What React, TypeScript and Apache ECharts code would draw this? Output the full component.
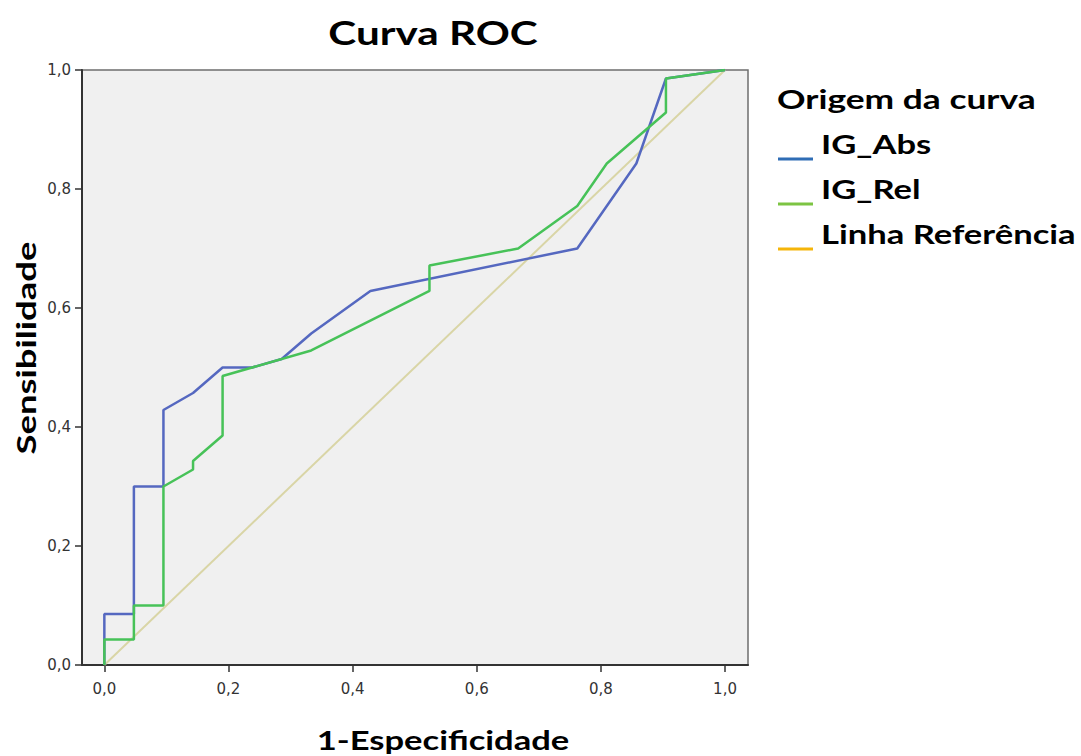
import React, { useEffect, useRef } from "react";
import * as echarts from "echarts";

const xTicks = [0, 0.2, 0.4, 0.6, 0.8, 1.0];

const absX = [0, 0, 0.0476, 0.0476, 0.0952, 0.0952, 0.1429, 0.1905, 0.2381, 0.2857, 0.3333, 0.4286, 0.7619, 0.8571, 0.9048, 1.0];
const absY = [0, 0.0857, 0.0857, 0.3, 0.3, 0.4286, 0.4571, 0.5, 0.5, 0.5143, 0.5571, 0.6286, 0.7, 0.8429, 0.9857, 1.0];

const relX = [0, 0, 0.0476, 0.0476, 0.0952, 0.0952, 0.1429, 0.1429, 0.1905, 0.1905, 0.3333, 0.5238, 0.5238, 0.6667, 0.7619, 0.8095, 0.9048, 0.9048, 1.0];
const relY = [0, 0.0429, 0.0429, 0.1, 0.1, 0.3, 0.3286, 0.3429, 0.3857, 0.4857, 0.5286, 0.6286, 0.6714, 0.7, 0.7714, 0.8429, 0.9286, 0.9857, 1.0];

const refX = [0, 1];
const refY = [0, 1];

const seriesNames = ["IG_Abs", "IG_Rel", "Linha Referência"];
const legendColors = ["#2f6db5", "#7cc443", "#f5b50a"];
const lineColors = ["#5568c0", "#47c258", "#d9d5a6"];

const fmt = (v: number) => v.toFixed(1).replace(".", ",");
const pairs = (xs: number[], ys: number[]) => xs.map((x, i) => [x, ys[i]]);

export default function App() {
  const ref = useRef<HTMLDivElement>(null);
  useEffect(() => {
    const chart = echarts.init(ref.current!, null, { renderer: "svg" });
    const bold = { fontFamily: "Lato", fontWeight: "bold", fill: "#000" };
    const legendY = [144, 189, 234];
    const swatchY = [159, 204, 249];
    const tickFont = { fontFamily: "DejaVu Sans", fontSize: 15, color: "#333" };
    const option: any = {
      animation: false,
      backgroundColor: "#fff",
      grid: {
        left: 82, top: 70, width: 666, height: 595,
        show: true, backgroundColor: "#f0f0f0", borderColor: "#6e6e6e", borderWidth: 1.5,
      },
      xAxis: {
        type: "value", min: -0.036, max: 1.037,
        axisLine: { show: true, onZero: false, lineStyle: { color: "#333", width: 2 } },
        axisTick: { show: true, customValues: xTicks, length: 7, lineStyle: { color: "#333", width: 1.5 } },
        axisLabel: { customValues: xTicks, formatter: fmt, margin: 16, ...tickFont },
        splitLine: { show: false },
      },
      yAxis: {
        type: "value", min: 0, max: 1, interval: 0.2,
        axisLine: { show: true, onZero: false, lineStyle: { color: "#333", width: 2 } },
        axisTick: { show: true, length: 7, lineStyle: { color: "#333", width: 1.5 } },
        axisLabel: { formatter: fmt, margin: 11, ...tickFont },
        splitLine: { show: false },
      },
      series: [
        { name: seriesNames[2], type: "line", data: pairs(refX, refY), showSymbol: false, lineStyle: { color: lineColors[2], width: 2 } },
        { name: seriesNames[0], type: "line", data: pairs(absX, absY), showSymbol: false, lineStyle: { color: lineColors[0], width: 2.5 } },
        { name: seriesNames[1], type: "line", data: pairs(relX, relY), showSymbol: false, lineStyle: { color: lineColors[1], width: 2.5 } },
      ],
      graphic: [
        { type: "text", x: 433, y: 32, scaleX: 1.28, style: { ...bold, text: "Curva ROC", fontSize: 33, textAlign: "center", textVerticalAlign: "middle" } },
        { type: "text", x: 443, y: 740, scaleX: 1.28, style: { ...bold, text: "1-Especificidade", fontSize: 27, textAlign: "center", textVerticalAlign: "middle" } },
        { type: "text", x: 25, y: 348, rotation: Math.PI / 2, scaleX: 1.35, style: { ...bold, text: "Sensibilidade", fontSize: 27, textAlign: "center", textVerticalAlign: "middle" } },
        { type: "text", x: 777, y: 99, scaleX: 1.36, style: { ...bold, text: "Origem da curva", fontSize: 26, textAlign: "left", textVerticalAlign: "middle" } },
        ...seriesNames.flatMap((n, i) => [
          { type: "line", shape: { x1: 778, y1: swatchY[i], x2: 813, y2: swatchY[i] }, style: { stroke: legendColors[i], lineWidth: 3 } },
          { type: "text", x: 821, y: legendY[i], scaleX: 1.33, style: { ...bold, text: n, fontSize: 26, textAlign: "left", textVerticalAlign: "middle" } },
        ]),
      ],
    };
    chart.setOption(option);
    return () => chart.dispose();
  }, []);
  return <div ref={ref} style={{ position: "fixed", left: 0, top: 0, width: 1081, height: 756 }} />;
}
